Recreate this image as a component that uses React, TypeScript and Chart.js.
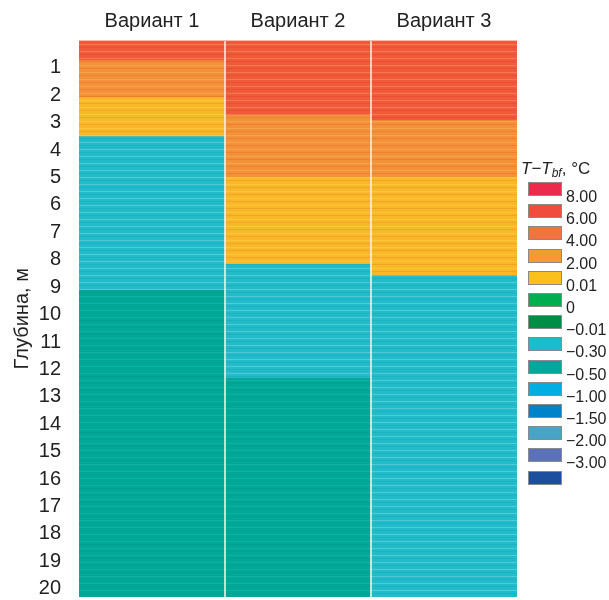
import React, { useEffect, useRef } from "react";
import { Chart, registerables } from "chart.js";

Chart.register(...registerables);

// ---- data ----
const categories = ["Вариант 1", "Вариант 2", "Вариант 3"];
const depthTicks = [1, 2, 3, 4, 5, 6, 7, 8, 9, 10, 11, 12, 13, 14, 15, 16, 17, 18, 19, 20];
const depthMin = 0;
const depthMax = 20.3;

// depth ranges [from, to] of each temperature band, per variant
const hotBand = [[0, 0.71], [0, 2.71], [0, 2.9]];
const warmBand = [[0.71, 2.06], [2.71, 4.97], [2.9, 4.97]];
const yellowBand = [[2.06, 3.48], [4.97, 8.14], [4.97, 8.54]];
const cyanBand = [[3.48, 9.09], [8.14, 12.3], [8.54, 20.3]];
const tealBand = [[9.09, 20.3], [12.3, 20.3], null];

const legendLabels = ["8.00", "6.00", "4.00", "2.00", "0.01", "0", "−0.01", "−0.30", "−0.50", "−1.00", "−1.50", "−2.00", "−3.00", ""];
const legendColors = ["#ec2a4b", "#ef4d3d", "#f1733f", "#f59a33", "#fbbf1e", "#00ae4f", "#008e47", "#1bbcce", "#00a89b", "#00aee3", "#0083c8", "#48a3c6", "#5b72b9", "#1d4f9f"];

const FONT = '"Liberation Sans", Arial, sans-serif';

function stripe(base: string, light: string, dark: string) {
  const c = document.createElement("canvas");
  c.width = 4;
  c.height = 7;
  const g = c.getContext("2d")!;
  g.fillStyle = base;
  g.fillRect(0, 0, 4, 7);
  g.fillStyle = light;
  g.fillRect(0, 2, 4, 1);
  g.fillStyle = dark;
  g.fillRect(0, 5, 4, 1);
  return g.createPattern(c, "repeat")!;
}

const legendPlugin = {
  id: "heatLegend",
  afterDraw(chart: any) {
    const ctx = chart.ctx as CanvasRenderingContext2D;
    ctx.save();
    ctx.fillStyle = "#222";
    ctx.textBaseline = "alphabetic";
    let x = 521;
    const ty = 174;
    const parts: [string, string, number][] = [
      [`italic 17px ${FONT}`, "T", 0],
      [`17px ${FONT}`, "−", 0],
      [`italic 17px ${FONT}`, "T", 0],
      [`italic 12px ${FONT}`, "bf", 3],
      [`17px ${FONT}`, ", °C", 0],
    ];
    for (const [f, t, dy] of parts) {
      ctx.font = f;
      ctx.fillText(t, x, ty + dy);
      x += ctx.measureText(t).width;
    }
    ctx.font = `16px ${FONT}`;
    legendColors.forEach((col, i) => {
      const y = Math.round(182 + i * 22.2);
      ctx.fillStyle = col;
      ctx.fillRect(528, y, 34, 14);
      ctx.strokeStyle = "#8a8a8a";
      ctx.lineWidth = 1;
      ctx.strokeRect(528.5, y + 0.5, 33, 13);
      if (legendLabels[i]) {
        ctx.fillStyle = "#222";
        ctx.fillText(legendLabels[i], 566, y + 20);
      }
    });
    ctx.restore();
  },
};

export default function App() {
  const ref = useRef<HTMLCanvasElement>(null);

  useEffect(() => {
    document.body.style.margin = "0";
    const canvas = ref.current!;
    const bands = [
      { data: hotBand, bg: stripe("#f05a3a", "#f47a4a", "#ea4e34") },
      { data: warmBand, bg: stripe("#f3903a", "#f5a446", "#ee8032") },
      { data: yellowBand, bg: stripe("#f8b828", "#fbc63a", "#f0a42a") },
      { data: cyanBand, bg: stripe("#22bbc9", "#52cad6", "#1cb2c2") },
      { data: tealBand, bg: stripe("#00a898", "#14b0a2", "#00a092") },
    ];
    const chart = new Chart(canvas, {
      type: "bar",
      data: {
        labels: categories,
        datasets: bands.map((b) => ({
          data: b.data as any,
          backgroundColor: b.bg as any,
          borderWidth: 0,
          barPercentage: 1,
          categoryPercentage: 1,
          grouped: false,
        })),
      },
      options: {
        animation: false,
        responsive: false,
        maintainAspectRatio: false,
        layout: { padding: { top: 0, right: 92, bottom: 3, left: 0 } },
        plugins: { legend: { display: false }, tooltip: { enabled: false } },
        scales: {
          x: {
            type: "category",
            position: "top",
            offset: true,
            grid: {
              offset: true,
              z: 1,
              drawTicks: false,
              lineWidth: 2,
              color: (c: any) => (c.index === 0 || c.index === 3 || c.index === undefined ? "rgba(0,0,0,0)" : "rgba(255,245,235,0.75)"),
            },
            border: { display: false },
            ticks: { font: { family: FONT, size: 20 }, color: "#222", padding: 7 },
            afterFit: (s: any) => {
              s.height = 40.5;
              s.paddingLeft = 0;
              s.paddingRight = 0;
            },
          },
          y: {
            type: "linear",
            reverse: true,
            min: depthMin,
            max: depthMax,
            grid: { display: false },
            border: { display: false },
            afterBuildTicks: (s: any) => {
              s.ticks = depthTicks.map((v) => ({ value: v }));
            },
            ticks: { font: { family: FONT, size: 20 }, color: "#222", padding: 10, autoSkip: false },
            title: {
              display: true,
              text: "Глубина, м",
              font: { family: FONT, size: 20 },
              color: "#222",
              padding: { top: 10, bottom: 0 },
            },
            afterFit: (s: any) => {
              s.width = 79;
              s.paddingTop = 0;
              s.paddingBottom = 0;
            },
          },
        },
      },
      plugins: [legendPlugin],
    });
    return () => chart.destroy();
  }, []);

  return (
    <div style={{ width: 609, height: 600 }}>
      <canvas ref={ref} width={609} height={600} style={{ width: 609, height: 600, display: "block" }} />
    </div>
  );
}
